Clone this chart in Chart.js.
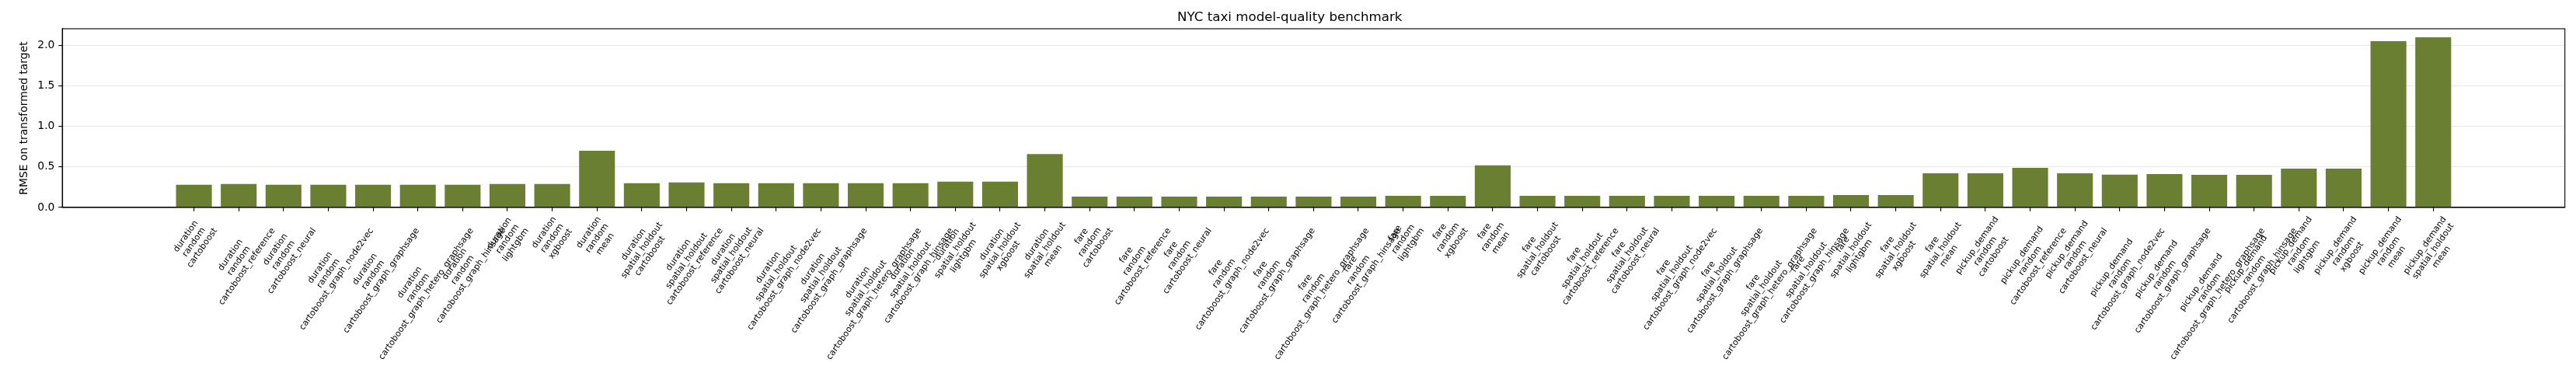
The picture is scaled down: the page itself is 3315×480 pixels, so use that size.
<!DOCTYPE html>
<html>
<head>
<meta charset="utf-8">
<title>NYC taxi model-quality benchmark</title>
<script src="https://cdn.jsdelivr.net/npm/chart.js@4.4.1/dist/chart.umd.min.js"></script>
<style>
  html, body { margin: 0; padding: 0; background: #fff; }
  #wrap { width: 3315px; height: 480px; }
</style>
</head>
<body>
<div id="wrap"><canvas id="chart" width="3315" height="480"></canvas></div>
<script>
// one bar per task / split / model
const tickLabels = [
  'duration\nrandom\ncartoboost',
  'duration\nrandom\ncartoboost_reference',
  'duration\nrandom\ncartoboost_neural',
  'duration\nrandom\ncartoboost_graph_node2vec',
  'duration\nrandom\ncartoboost_graph_graphsage',
  'duration\nrandom\ncartoboost_graph_hetero_graphsage',
  'duration\nrandom\ncartoboost_graph_hinsage',
  'duration\nrandom\nlightgbm',
  'duration\nrandom\nxgboost',
  'duration\nrandom\nmean',
  'duration\nspatial_holdout\ncartoboost',
  'duration\nspatial_holdout\ncartoboost_reference',
  'duration\nspatial_holdout\ncartoboost_neural',
  'duration\nspatial_holdout\ncartoboost_graph_node2vec',
  'duration\nspatial_holdout\ncartoboost_graph_graphsage',
  'duration\nspatial_holdout\ncartoboost_graph_hetero_graphsage',
  'duration\nspatial_holdout\ncartoboost_graph_hinsage',
  'duration\nspatial_holdout\nlightgbm',
  'duration\nspatial_holdout\nxgboost',
  'duration\nspatial_holdout\nmean',
  'fare\nrandom\ncartoboost',
  'fare\nrandom\ncartoboost_reference',
  'fare\nrandom\ncartoboost_neural',
  'fare\nrandom\ncartoboost_graph_node2vec',
  'fare\nrandom\ncartoboost_graph_graphsage',
  'fare\nrandom\ncartoboost_graph_hetero_graphsage',
  'fare\nrandom\ncartoboost_graph_hinsage',
  'fare\nrandom\nlightgbm',
  'fare\nrandom\nxgboost',
  'fare\nrandom\nmean',
  'fare\nspatial_holdout\ncartoboost',
  'fare\nspatial_holdout\ncartoboost_reference',
  'fare\nspatial_holdout\ncartoboost_neural',
  'fare\nspatial_holdout\ncartoboost_graph_node2vec',
  'fare\nspatial_holdout\ncartoboost_graph_graphsage',
  'fare\nspatial_holdout\ncartoboost_graph_hetero_graphsage',
  'fare\nspatial_holdout\ncartoboost_graph_hinsage',
  'fare\nspatial_holdout\nlightgbm',
  'fare\nspatial_holdout\nxgboost',
  'fare\nspatial_holdout\nmean',
  'pickup_demand\nrandom\ncartoboost',
  'pickup_demand\nrandom\ncartoboost_reference',
  'pickup_demand\nrandom\ncartoboost_neural',
  'pickup_demand\nrandom\ncartoboost_graph_node2vec',
  'pickup_demand\nrandom\ncartoboost_graph_graphsage',
  'pickup_demand\nrandom\ncartoboost_graph_hetero_graphsage',
  'pickup_demand\nrandom\ncartoboost_graph_hinsage',
  'pickup_demand\nrandom\nlightgbm',
  'pickup_demand\nrandom\nxgboost',
  'pickup_demand\nrandom\nmean',
  'pickup_demand\nspatial_holdout\nmean'
];

const rmse = [
  0.28, 0.29, 0.28, 0.28, 0.28, 0.28, 0.28, 0.29, 0.29, 0.70,
  0.30, 0.31, 0.30, 0.30, 0.30, 0.30, 0.30, 0.32, 0.32, 0.66,
  0.135, 0.135, 0.135, 0.135, 0.135, 0.135, 0.135, 0.144, 0.144, 0.52,
  0.144, 0.144, 0.144, 0.144, 0.144, 0.144, 0.144, 0.154, 0.154, 0.423,
  0.423, 0.49, 0.423, 0.404, 0.412, 0.403, 0.403, 0.479, 0.479, 2.051,
  2.099
];

const yTicks = [0, 0.5, 1.0, 1.5, 2.0];

const PT = 100 / 72;          // matplotlib points -> px at 100 dpi
const FONT = 'DejaVu Sans';
const BAR = 'rgb(107,127,50)';

Chart.defaults.font.family = FONT;
Chart.defaults.color = '#000';

// matplotlib-style rotated multi-line tick labels (centered, 55 deg)
const xLabelPlugin = {
  id: 'xLabels',
  afterDraw(chart) {
    const ctx = chart.ctx;
    const xs = chart.scales.x;
    const fs = 8 * PT;
    const th = 55 * Math.PI / 180;
    const c = Math.cos(th), s = Math.sin(th);
    const pitch = 1.2 * 0.968 * fs;
    const first = 0.765 * fs;
    const top = chart.chartArea.bottom + 3.5 * PT + 3.5 * PT;
    ctx.save();
    ctx.font = fs + 'px "' + FONT + '"';
    ctx.fillStyle = '#000';
    ctx.textBaseline = 'alphabetic';
    ctx.textAlign = 'left';
    tickLabels.forEach((lab, i) => {
      const lines = lab.split('\n');
      const ws = lines.map(l => ctx.measureText(l).width);
      const W = Math.max(...ws);
      const H = (lines.length - 1) * pitch + 0.968 * fs;
      const x = xs.getPixelForValue(i);
      ctx.save();
      ctx.translate(x - (W * c + H * s) / 2, top + W * s);
      ctx.rotate(-th);
      lines.forEach((l, k) => ctx.fillText(l, (W - ws[k]) / 2, first + k * pitch));
      ctx.restore();
    });
    ctx.restore();
  }
};

// axes frame on all four sides
const framePlugin = {
  id: 'frame',
  afterDraw(chart) {
    const {left, top, right, bottom} = chart.chartArea;
    const ctx = chart.ctx;
    ctx.save();
    ctx.strokeStyle = '#000';
    ctx.lineWidth = 0.8 * PT;
    ctx.strokeRect(left, top, right - left, bottom - top);
    ctx.restore();
  }
};

const n = rmse.length;
const pad = 0.05 * (n - 1 + 0.8);

new Chart(document.getElementById('chart'), {
  type: 'bar',
  data: {
    datasets: [{
      data: rmse.map((v, i) => ({x: i, y: v})),
      backgroundColor: BAR,
      borderWidth: 0,
      barPercentage: 0.8,
      categoryPercentage: 1.0
    }]
  },
  options: {
    responsive: false,
    devicePixelRatio: 1,
    animation: false,
    layout: { padding: { left: 18.8, right: 14.3, top: 0, bottom: 208.1 } },
    plugins: {
      legend: { display: false },
      tooltip: { enabled: false },
      title: {
        display: true,
        text: 'NYC taxi model-quality benchmark',
        font: { size: 12 * PT, weight: 'normal', lineHeight: 1.2 },
        color: '#000',
        padding: { top: 13, bottom: 4 }
      }
    },
    scales: {
      x: {
        type: 'linear',
        offset: false,
        min: -0.4 - pad,
        max: n - 1 + 0.4 + pad,
        afterBuildTicks: (sc) => { sc.ticks = tickLabels.map((_, i) => ({value: i})); },
        ticks: { display: false },
        grid: {
          display: true,
          offset: false,
          drawOnChartArea: false,
          drawTicks: true,
          tickLength: 3.5 * PT,
          color: '#000',
          tickColor: '#000',
          lineWidth: 0.8 * PT
        },
        border: { display: true, color: '#000', width: 0.8 * PT }
      },
      y: {
        z: 1,
        min: 0,
        max: 1.05 * Math.max(...rmse),
        afterBuildTicks: (sc) => { sc.ticks = yTicks.map(v => ({value: v})); },
        ticks: {
          font: { size: 10 * PT },
          color: '#000',
          padding: 3.5 * PT,
          callback: (v) => Number(v).toFixed(1)
        },
        grid: {
          color: 'rgba(176,176,176,0.3)',
          lineWidth: 0.8 * PT,
          tickColor: '#000',
          tickLength: 3.5 * PT
        },
        border: { display: true, color: '#000', width: 0.8 * PT },
        title: {
          display: true,
          text: 'RMSE on transformed target',
          font: { size: 10 * PT },
          color: '#000',
          padding: { top: 4, bottom: 4 }
        }
      }
    }
  },
  plugins: [xLabelPlugin, framePlugin]
});
</script>
</body>
</html>
